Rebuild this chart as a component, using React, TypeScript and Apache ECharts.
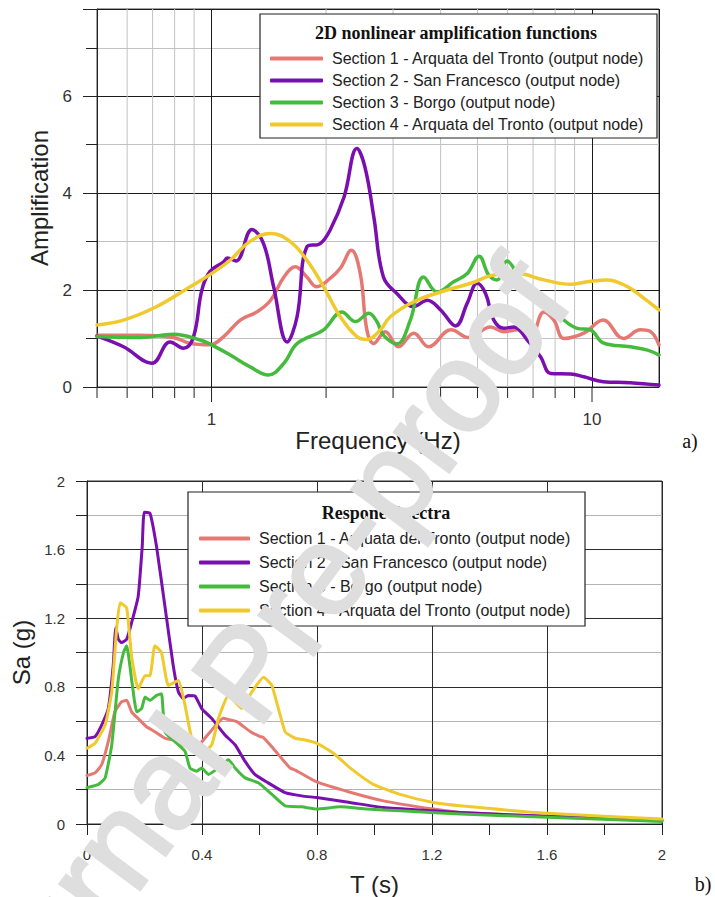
import { useEffect, useRef } from "react";
import * as echarts from "echarts";

const SANS = "'Liberation Sans', Arial, sans-serif";
const SERIF = "'Liberation Serif', 'Times New Roman', serif";

const sectionNames = [
  "Section 1 - Arquata del Tronto (output node)",
  "Section 2 - San Francesco (output node)",
  "Section 3 - Borgo (output node)",
  "Section 4 - Arquata del Tronto (output node)",
];
const sectionColors = ["#e57873", "#7a0fb0", "#45bb3e", "#f0c92c"];

// a) 2D nonlinear amplification functions: frequency (Hz) / amplification
const freqS1 = [0.5, 0.649, 0.794, 0.879, 0.99, 1.076, 1.19, 1.316, 1.43, 1.55, 1.66, 1.78, 1.89, 2.05, 2.18, 2.33, 2.46, 2.56, 2.67, 2.86, 3.1, 3.4, 3.72, 4.26, 4.74, 5.41, 5.87, 6.36, 6.89, 7.47, 7.94, 8.44, 9.52, 10.7, 12.1, 13.4, 14.2, 15];
const ampS1 = [1.07, 1.07, 1.02, 0.9, 0.87, 1.04, 1.38, 1.55, 1.79, 2.27, 2.48, 2.27, 2.07, 2.24, 2.45, 2.82, 2.34, 1.18, 0.9, 1.14, 0.83, 1.11, 0.83, 1.18, 1.02, 1.24, 1.14, 1.18, 1.04, 1.55, 1.38, 1.0, 1.11, 1.38, 1.0, 1.18, 1.15, 0.87];

const freqS2 = [0.5, 0.587, 0.697, 0.778, 0.844, 0.897, 0.943, 0.99, 1.076, 1.1, 1.16, 1.277, 1.37, 1.456, 1.58, 1.678, 1.78, 1.93, 2.05, 2.23, 2.41, 2.53, 2.67, 2.83, 3.07, 3.4, 3.69, 4.0, 4.38, 4.7, 4.99, 5.25, 5.52, 5.87, 6.23, 6.76, 7.33, 7.79, 8.79, 9.52, 10.7, 12.6, 15];
const ampS2 = [1.05, 0.83, 0.49, 0.93, 0.8, 1.04, 2.0, 2.38, 2.58, 2.66, 2.6, 3.25, 2.96, 2.07, 0.93, 1.45, 2.89, 2.96, 3.24, 3.92, 4.92, 4.54, 3.51, 2.27, 1.93, 1.66, 1.79, 1.59, 1.26, 1.73, 2.14, 1.93, 1.38, 1.21, 1.24, 0.97, 0.62, 0.28, 0.27, 0.21, 0.11, 0.09, 0.04];

const freqS3 = [0.5, 0.649, 0.794, 0.934, 1.0, 1.12, 1.26, 1.41, 1.55, 1.68, 1.97, 2.2, 2.39, 2.59, 2.72, 2.83, 3.07, 3.33, 3.61, 3.92, 4.33, 4.7, 5.05, 5.35, 5.63, 5.98, 6.36, 7.04, 7.79, 8.44, 9.14, 9.9, 10.7, 12.6, 14, 15];
const ampS3 = [1.04, 1.02, 1.09, 0.97, 0.87, 0.66, 0.42, 0.25, 0.49, 0.9, 1.18, 1.55, 1.35, 1.52, 1.35, 1.07, 0.89, 1.38, 2.27, 1.96, 2.17, 2.34, 2.7, 2.31, 2.21, 2.6, 2.34, 1.86, 1.66, 1.38, 1.21, 1.18, 0.91, 0.83, 0.76, 0.66];

const freqS4 = [0.5, 0.587, 0.718, 0.879, 1.0, 1.12, 1.26, 1.43, 1.61, 1.78, 1.97, 2.18, 2.41, 2.56, 2.78, 2.95, 3.4, 4.0, 4.8, 5.52, 6.36, 7.47, 8.79, 9.72, 10.98, 12.39, 13.7, 15];
const ampS4 = [1.28, 1.38, 1.66, 2.07, 2.34, 2.62, 3.0, 3.17, 3.0, 2.62, 2.07, 1.45, 1.04, 0.98, 1.18, 1.45, 1.76, 1.96, 2.14, 2.31, 2.34, 2.21, 2.12, 2.17, 2.21, 2.07, 1.83, 1.59];

// b) response spectra: period T (s) / Sa (g)
const periodS1 = [0, 0.028, 0.051, 0.074, 0.097, 0.12, 0.138, 0.155, 0.178, 0.207, 0.236, 0.271, 0.3, 0.335, 0.376, 0.4, 0.44, 0.474, 0.49, 0.521, 0.567, 0.602, 0.613, 0.648, 0.706, 0.729, 0.799, 0.915, 1.031, 1.205, 1.3, 1.6, 2.0];
const saS1 = [0.283, 0.298, 0.346, 0.48, 0.654, 0.712, 0.721, 0.654, 0.615, 0.567, 0.538, 0.5, 0.49, 0.46, 0.44, 0.48, 0.56, 0.616, 0.61, 0.597, 0.54, 0.51, 0.505, 0.44, 0.327, 0.31, 0.245, 0.185, 0.135, 0.087, 0.067, 0.045, 0.025];

const periodS2 = [0, 0.028, 0.051, 0.074, 0.091, 0.1, 0.109, 0.12, 0.138, 0.155, 0.178, 0.192, 0.199, 0.219, 0.242, 0.271, 0.3, 0.318, 0.335, 0.352, 0.376, 0.399, 0.434, 0.48, 0.515, 0.55, 0.584, 0.63, 0.689, 0.747, 0.799, 0.915, 1.031, 1.205, 1.297, 1.6, 2.0];
const saS2 = [0.5, 0.51, 0.577, 0.673, 0.92, 1.145, 1.077, 1.058, 1.077, 1.173, 1.327, 1.616, 1.818, 1.812, 1.616, 1.27, 0.923, 0.77, 0.731, 0.75, 0.746, 0.673, 0.615, 0.519, 0.462, 0.365, 0.289, 0.24, 0.183, 0.164, 0.154, 0.125, 0.096, 0.077, 0.067, 0.045, 0.022];

const periodS3 = [0, 0.04, 0.063, 0.086, 0.109, 0.127, 0.138, 0.155, 0.173, 0.19, 0.202, 0.219, 0.242, 0.259, 0.271, 0.306, 0.341, 0.358, 0.381, 0.399, 0.422, 0.457, 0.492, 0.515, 0.55, 0.596, 0.643, 0.689, 0.747, 0.799, 0.88, 0.973, 1.089, 1.3, 1.6, 2.0];
const saS3 = [0.212, 0.231, 0.269, 0.46, 0.846, 1.0, 1.039, 0.846, 0.654, 0.673, 0.74, 0.721, 0.75, 0.76, 0.538, 0.48, 0.423, 0.327, 0.308, 0.327, 0.289, 0.327, 0.375, 0.327, 0.269, 0.24, 0.173, 0.106, 0.1, 0.087, 0.1, 0.087, 0.077, 0.058, 0.04, 0.015];

const periodS4 = [0, 0.028, 0.063, 0.086, 0.103, 0.115, 0.138, 0.155, 0.178, 0.202, 0.219, 0.236, 0.259, 0.283, 0.318, 0.341, 0.364, 0.393, 0.434, 0.457, 0.492, 0.538, 0.573, 0.614, 0.643, 0.689, 0.724, 0.759, 0.799, 0.857, 0.915, 0.996, 1.089, 1.205, 1.297, 1.6, 2.0];
const saS4 = [0.442, 0.471, 0.577, 0.77, 1.135, 1.29, 1.26, 0.98, 0.788, 0.865, 0.865, 1.039, 1.0, 0.808, 0.837, 0.692, 0.5, 0.404, 0.462, 0.615, 0.75, 0.673, 0.769, 0.856, 0.808, 0.538, 0.5, 0.49, 0.471, 0.413, 0.327, 0.231, 0.173, 0.125, 0.106, 0.062, 0.029];

// axis ranges and tick positions
const FREQ_MIN = 0.5;
const FREQ_MAX = 15;
const AMP_MAX = 7.8;
const freqTicks = [0.5, 0.6, 0.7, 0.8, 0.9, 1, 2, 3, 4, 5, 6, 7, 8, 9, 10];
const freqMajor = [1, 10];
const ampLabels = [0, 2, 4, 6];

const zip = (xs: number[], ys: number[]) => xs.map((x, i) => [x, ys[i]]);

const ampSets = [
  zip(freqS1, ampS1),
  zip(freqS2, ampS2),
  zip(freqS3, ampS3),
  zip(freqS4, ampS4),
];
const saSets = [
  zip(periodS1, saS1),
  zip(periodS2, saS2),
  zip(periodS3, saS3),
  zip(periodS4, saS4),
];

const legendBase = {
  data: sectionNames,
  orient: "vertical",
  padding: 0,
  itemHeight: 4,
  icon: "roundRect",
  selectedMode: false,
  z: 12,
  textStyle: {
    fontFamily: SANS,
    fontSize: 16,
    lineHeight: 15,
    color: "#222",
    padding: [0, 0, 0, 4],
  },
};

export default function App() {
  const ref = useRef<HTMLDivElement>(null);

  useEffect(() => {
    if (!ref.current) return;
    const chart = echarts.init(ref.current, undefined, { renderer: "svg" });

    const ampSeries = ampSets.map((data, i) => ({
      type: "line",
      name: sectionNames[i],
      xAxisIndex: 0,
      yAxisIndex: 0,
      data,
      showSymbol: false,
      symbol: "none",
      smooth: 0.4,
      z: 3,
      lineStyle: { color: sectionColors[i], width: 3.5, cap: "round", join: "round" },
      itemStyle: { color: sectionColors[i] },
      emphasis: { disabled: true },
    }));

    const saSeries = saSets.map((data, i) => ({
      type: "line",
      name: sectionNames[i],
      xAxisIndex: 1,
      yAxisIndex: 1,
      data,
      showSymbol: false,
      symbol: "none",
      smooth: 0.15,
      z: 3,
      lineStyle: { color: sectionColors[i], width: 3, cap: "round", join: "round" },
      itemStyle: { color: sectionColors[i] },
      emphasis: { disabled: true },
    }));

    // ticks under the log frequency axis plus the light decade-subdivision grid
    const freqTickSeries = {
      type: "custom",
      xAxisIndex: 0,
      yAxisIndex: 0,
      silent: true,
      clip: false,
      z: 1,
      data: freqTicks.map((f) => [f, 0]),
      encode: { x: 0, y: 1 },
      renderItem: (_params: any, api: any) => {
        const f = api.value(0);
        const major = freqMajor.indexOf(f) >= 0;
        const base = api.coord([f, 0]);
        const top = api.coord([f, AMP_MAX]);
        const children: any[] = [
          {
            type: "line",
            shape: { x1: base[0], y1: base[1], x2: base[0], y2: base[1] + (major ? 15 : 11) },
            style: { stroke: "#222", lineWidth: 1 },
          },
        ];
        if (!major && f > FREQ_MIN) {
          children.push({
            type: "line",
            shape: { x1: base[0], y1: base[1], x2: base[0], y2: top[1] },
            style: { stroke: "#c2c2c2", lineWidth: 1 },
          });
        }
        return { type: "group", children };
      },
    };

    const axisName = { fontFamily: SANS, fontSize: 24, color: "#222" };

    chart.setOption({
      animation: false,
      backgroundColor: "#fff",
      grid: [
        { left: 97, top: 9, width: 562, height: 378, show: true, borderColor: "#444", borderWidth: 1, backgroundColor: "transparent" },
        { left: 87, top: 481, width: 575, height: 346, show: true, borderColor: "#333", borderWidth: 1, backgroundColor: "transparent" },
      ],
      xAxis: [
        {
          gridIndex: 0,
          type: "log",
          logBase: 10,
          min: FREQ_MIN,
          max: FREQ_MAX,
          axisLine: { show: true, lineStyle: { color: "#222", width: 1 } },
          axisTick: { show: false },
          splitLine: { show: true, lineStyle: { color: "#1a1a1a", width: 1 } },
          axisLabel: {
            showMinLabel: false,
            showMaxLabel: false,
            margin: 24,
            fontFamily: SANS,
            fontSize: 17,
            color: "#333",
            formatter: (v: number) => (freqMajor.indexOf(Math.round(v * 1000) / 1000) >= 0 ? String(Math.round(v)) : ""),
          },
          name: "Frequency (Hz)",
          nameLocation: "middle",
          nameGap: 17,
          nameTextStyle: axisName,
        },
        {
          gridIndex: 1,
          type: "value",
          min: 0,
          max: 2,
          interval: 0.4,
          axisLine: { show: true, lineStyle: { color: "#222", width: 1 } },
          axisTick: { show: true, length: 11, lineStyle: { color: "#222" } },
          minorTick: { show: true, splitNumber: 2, length: 11, lineStyle: { color: "#222" } },
          splitLine: { show: true, lineStyle: { color: "#2a2a2a", width: 1 } },
          minorSplitLine: { show: false },
          axisLabel: { margin: 23, fontFamily: SANS, fontSize: 15, color: "#333" },
          name: "T (s)",
          nameLocation: "middle",
          nameGap: 48,
          nameTextStyle: axisName,
        },
      ],
      yAxis: [
        {
          gridIndex: 0,
          type: "value",
          min: 0,
          max: AMP_MAX,
          interval: 2,
          axisLine: { show: true, lineStyle: { color: "#222", width: 1 } },
          axisTick: { show: true, length: 14, lineStyle: { color: "#222" } },
          minorTick: { show: true, splitNumber: 2, length: 11, lineStyle: { color: "#222" } },
          splitLine: { show: true, lineStyle: { color: "#1a1a1a", width: 1 } },
          minorSplitLine: { show: true, lineStyle: { color: "#c2c2c2", width: 1 } },
          axisLabel: {
            margin: 25,
            fontFamily: SANS,
            fontSize: 17,
            color: "#333",
            formatter: (v: number) => (ampLabels.indexOf(v) >= 0 ? String(v) : ""),
          },
          name: "Amplification",
          nameLocation: "middle",
          nameGap: 38,
          nameTextStyle: axisName,
        },
        {
          gridIndex: 1,
          type: "value",
          min: 0,
          max: 2,
          interval: 0.4,
          axisLine: { show: true, lineStyle: { color: "#222", width: 1 } },
          axisTick: { show: true, length: 11, lineStyle: { color: "#222" } },
          minorTick: { show: true, splitNumber: 2, length: 11, lineStyle: { color: "#222" } },
          splitLine: { show: true, lineStyle: { color: "#2a2a2a", width: 1 } },
          minorSplitLine: { show: true, lineStyle: { color: "#b4b4b4", width: 1 } },
          axisLabel: { margin: 22, fontFamily: SANS, fontSize: 15, color: "#333" },
          name: "Sa (g)",
          nameLocation: "middle",
          nameGap: 51,
          nameTextStyle: axisName,
        },
      ],
      legend: [
        { ...legendBase, left: 270, top: 50.5, itemWidth: 53, itemGap: 6 },
        { ...legendBase, left: 199, top: 530.5, itemWidth: 51, itemGap: 8 },
      ],
      graphic: [
        {
          type: "rect",
          z: 10,
          silent: true,
          shape: { x: 260, y: 14, width: 397, height: 124 },
          style: { fill: "#fff", stroke: "#222", lineWidth: 1.2 },
        },
        {
          type: "text",
          z: 12,
          silent: true,
          x: 456,
          y: 33,
          style: {
            text: "2D nonlinear amplification functions",
            fontFamily: SERIF,
            fontWeight: "bold",
            fontSize: 18,
            fill: "#111",
            align: "center",
            verticalAlign: "middle",
          },
        },
        {
          type: "rect",
          z: 10,
          silent: true,
          shape: { x: 188, y: 492, width: 397, height: 134 },
          style: { fill: "#fff", stroke: "#222", lineWidth: 1.2 },
        },
        {
          type: "text",
          z: 12,
          silent: true,
          x: 386,
          y: 513,
          style: {
            text: "Respone Spectra",
            fontFamily: SERIF,
            fontWeight: "bold",
            fontSize: 18,
            fill: "#111",
            align: "center",
            verticalAlign: "middle",
          },
        },
        {
          type: "text",
          z: 12,
          silent: true,
          x: 690,
          y: 441,
          style: { text: "a)", fontFamily: SERIF, fontSize: 20, fill: "#111", align: "center", verticalAlign: "middle" },
        },
        {
          type: "text",
          z: 12,
          silent: true,
          x: 703,
          y: 884,
          style: { text: "b)", fontFamily: SERIF, fontSize: 20, fill: "#111", align: "center", verticalAlign: "middle" },
        },
        {
          type: "text",
          z: 30,
          silent: true,
          x: 245,
          y: 673,
          rotation: (53.5 * Math.PI) / 180,
          style: {
            text: "Journal Pre-proof",
            fontFamily: SANS,
            fontSize: 128,
            fill: "#dedede",
            stroke: "#dedede",
            lineWidth: 3,
            align: "center",
            verticalAlign: "middle",
          },
        },
      ],
      series: [freqTickSeries, ...ampSeries, ...saSeries],
    });

    return () => chart.dispose();
  }, []);

  return (
    <div
      ref={ref}
      style={{ position: "fixed", left: 0, top: 0, width: 715, height: 897, background: "#fff" }}
    />
  );
}
